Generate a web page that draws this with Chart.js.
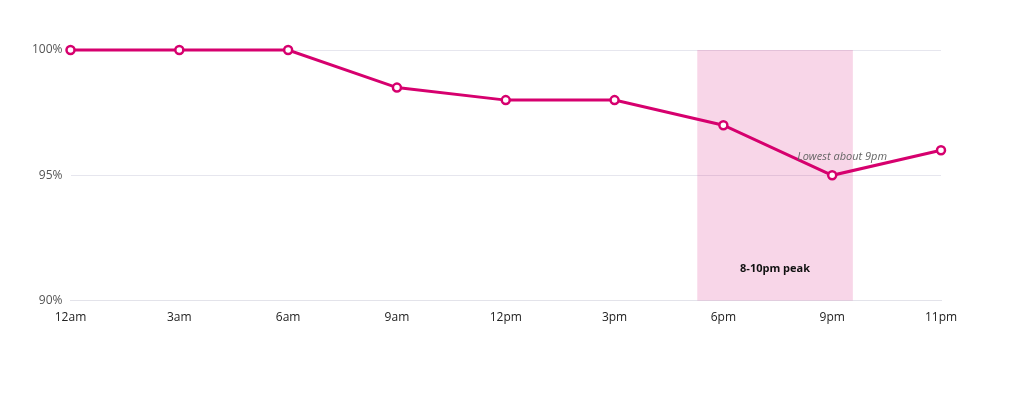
<!DOCTYPE html>
<html>
<head>
<meta charset="utf-8">
<script src="https://cdn.jsdelivr.net/npm/chart.js@4"></script>
<style>
  html, body { margin: 0; padding: 0; background: #fff; }
  #wrap { width: 1024px; height: 400px; }
</style>
</head>
<body>
<div id="wrap"><canvas id="cvs"></canvas></div>
<script>
const hours = ['12am', '3am', '6am', '9am', '12pm', '3pm', '6pm', '9pm', '11pm'];
const uptime = [100, 100, 100, 98.5, 98, 98, 97, 95, 96];
const yTicks = [90, 95, 100];
const peakBand = [5.76, 7.19]; // in category index units
const pink = '#d6006e';

// shaded peak band and annotations
const bandPlugin = {
  id: 'band',
  beforeDatasetsDraw(chart) {
    const { ctx, scales } = chart;
    const xs = scales.x, ys = scales.y;
    const idxToPx = v => {
      const i = Math.floor(v);
      const a = xs.getPixelForValue(i), b = xs.getPixelForValue(i + 1);
      return a + (b - a) * (v - i);
    };
    const x0 = idxToPx(peakBand[0]), x1 = idxToPx(peakBand[1]);
    ctx.save();
    ctx.fillStyle = 'rgba(214, 0, 110, 0.16)';
    ctx.fillRect(x0, ys.getPixelForValue(100), x1 - x0, ys.getPixelForValue(90) - ys.getPixelForValue(100));
    ctx.fillStyle = '#111';
    ctx.font = 'bold 11px "Open Sans", sans-serif';
    ctx.textAlign = 'center';
    ctx.textBaseline = 'middle';
    ctx.fillText('8-10pm peak', (x0 + x1) / 2, ys.getPixelForValue(91.25));
    ctx.restore();
  },
  afterDatasetsDraw(chart) {
    const { ctx, scales } = chart;
    ctx.save();
    ctx.fillStyle = '#666';
    ctx.font = 'italic 11px "Open Sans", sans-serif';
    ctx.textAlign = 'center';
    ctx.textBaseline = 'middle';
    ctx.fillText('Lowest about 9pm', scales.x.getPixelForValue(7) + 10, scales.y.getPixelForValue(95.75));
    ctx.restore();
  }
};

new Chart(document.getElementById('cvs').getContext('2d'), {
  type: 'line',
  data: {
    labels: hours,
    datasets: [{
      data: uptime,
      borderColor: pink,
      borderWidth: 3,
      pointRadius: 4,
      pointBorderWidth: 2.5,
      pointBackgroundColor: '#fff',
      pointBorderColor: pink,
      tension: 0,
      clip: false
    }]
  },
  options: {
    responsive: true,
    maintainAspectRatio: false,
    animation: false,
    layout: { padding: { top: 50, right: 83, bottom: 73, left: 24 } },
    plugins: { legend: { display: false }, tooltip: { enabled: false } },
    scales: {
      x: {
        offset: false,
        grid: { display: false },
        border: { color: '#e3e3ea' },
        ticks: { color: '#222', font: { family: 'Open Sans', size: 12 }, maxRotation: 0, padding: 2 }
      },
      y: {
        min: 90, max: 100,
        afterBuildTicks: axis => { axis.ticks = yTicks.map(v => ({ value: v })); },
        grid: { color: '#e6e6ee', drawTicks: false },
        border: { display: false },
        ticks: { color: '#555', font: { family: 'Open Sans', size: 12 }, padding: 8, callback: v => v + '%' }
      }
    }
  },
  plugins: [bandPlugin]
});
</script>
</body>
</html>
